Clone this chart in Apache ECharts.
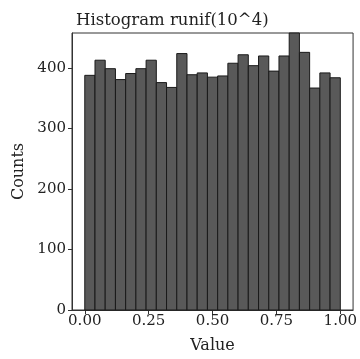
<!DOCTYPE html>
<html>
<head>
<meta charset="utf-8">
<script src="https://cdn.jsdelivr.net/npm/echarts@6/dist/echarts.min.js"></script>
<style>html,body{margin:0;padding:0;background:#fff}#c{width:360px;height:359px}</style>
</head>
<body>
<div id="c"></div>
<script>
var binEdges = [0,0.04,0.08,0.12,0.16,0.20,0.24,0.28,0.32,0.36,0.40,0.44,0.48,0.52,0.56,0.60,0.64,0.68,0.72,0.76,0.80,0.84,0.88,0.92,0.96,1.00];
var counts = [388,413,399,381,391,399,413,376,368,424,389,392,385,387,408,422,404,420,395,420,458,426,367,392,384];
var xTicks = [0, 0.25, 0.5, 0.75, 1];
var yTicks = [0, 100, 200, 300, 400];

var data = counts.map(function(c, i){ return [binEdges[i], binEdges[i+1], c]; });
var font = '"DejaVu Serif", serif';
var chart = echarts.init(document.getElementById('c'));
chart.setOption({
  animation: false,
  title: {
    text: 'Histogram runif(10^4)', left: 71, top: 7,
    textStyle: {fontFamily: font, fontWeight: 'normal', fontSize: 16.5, color: '#222'}
  },
  grid: {left: 72, right: 5, top: 33, bottom: 45, show: true, borderColor: '#333', borderWidth: 1},
  xAxis: {
    type: 'value', min: -0.05, max: 1.05,
    name: 'Value', nameLocation: 'middle', nameGap: 28,
    nameTextStyle: {fontFamily: font, fontSize: 16, color: '#222'},
    axisLine: {show: true, onZero: false, lineStyle: {color: '#333'}},
    axisTick: {show: true, length: 4, inside: false, customValues: xTicks, lineStyle: {color: '#333'}},
    axisLabel: {customValues: xTicks, fontFamily: font, fontSize: 15, color: '#222', margin: 4,
      formatter: function(v){ return v.toFixed(2); }},
    splitLine: {show: false}
  },
  yAxis: {
    type: 'value', min: 0, max: Math.max.apply(null, counts),
    name: 'Counts', nameLocation: 'middle', nameGap: 45,
    nameTextStyle: {fontFamily: font, fontSize: 16, color: '#222'},
    axisLine: {show: true, onZero: false, lineStyle: {color: '#333'}},
    axisTick: {show: true, length: 4, customValues: yTicks, lineStyle: {color: '#333'}},
    axisLabel: {customValues: yTicks, fontFamily: font, fontSize: 15, color: '#222', margin: 6},
    splitLine: {show: false}
  },
  series: [{
    type: 'custom',
    data: data,
    encode: {x: [0, 1], y: 2},
    renderItem: function(params, api){
      var p0 = api.coord([api.value(0), api.value(2)]);
      var p1 = api.coord([api.value(1), 0]);
      return {
        type: 'rect',
        shape: {x: p0[0], y: p0[1], width: p1[0] - p0[0], height: p1[1] - p0[1]},
        style: {fill: '#595959', stroke: '#1a1a1a', lineWidth: 1}
      };
    }
  }]
});
</script>
</body>
</html>
